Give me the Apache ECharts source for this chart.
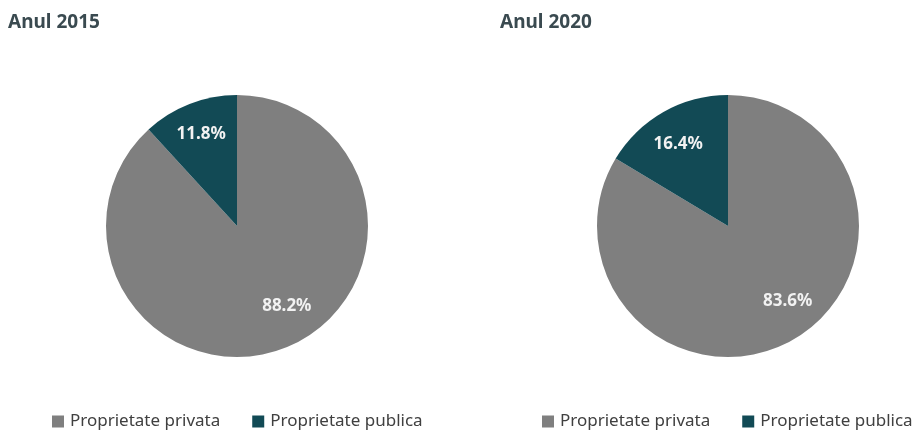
<!DOCTYPE html>
<html>
<head>
<meta charset="utf-8">
<style>
  html, body { margin: 0; padding: 0; background: #fff; }
  #chart { width: 923px; height: 432px; }
</style>
<script src="https://cdn.jsdelivr.net/npm/echarts@6/dist/echarts.min.js"></script>
</head>
<body>
<div id="chart"></div>
<script>
// date
var categories = ['Proprietate privata', 'Proprietate publica']
var years = ['Anul 2015', 'Anul 2020']
var values2015 = [88.2, 11.8]
var values2020 = [83.6, 16.4]

var colors = ['#7f7f7f', '#124a55']
var centers = [[237, 226], [728, 226]]
// eticheta mutata spre margine, ca in Excel
var labelShift = [
  [[25, 16], [-11, -28]],
  [[26, 16], [-16, -22]]
]

function makePie (idx, values) {
  return {
    type: 'pie',
    center: centers[idx],
    radius: 131,
    startAngle: 90,
    clockwise: true,
    silent: true,
    label: {
      show: true,
      position: 'inside',
      color: '#f2f2f2',
      fontFamily: 'Noto Sans',
      fontWeight: 'bold',
      fontSize: 17,
      formatter: function (p) { return p.value.toFixed(1) + '%' }
    },
    labelLine: { show: false },
    itemStyle: { borderWidth: 0 },
    data: categories.map(function (name, i) {
      return {
        name: name,
        value: values[i],
        itemStyle: { color: colors[i] },
        label: { offset: labelShift[idx][i] }
      }
    })
  }
}

var chart = echarts.init(document.getElementById('chart'))
var legendBase = {
  data: categories,
  top: 413,
  padding: 0,
  icon: 'rect',
  itemWidth: 12,
  itemHeight: 12,
  itemGap: 32,
  selectedMode: false,
  textStyle: { fontFamily: 'Noto Sans', fontSize: 17, color: '#404040', padding: [0, 0, 0, 1] }
}
var titleStyle = { fontFamily: 'Noto Sans', fontWeight: 'bold', fontSize: 19, color: '#3a4a50' }
chart.setOption({
  animation: false,
  color: colors,
  title: [
    { text: years[0], left: 3, top: 8, textStyle: titleStyle },
    { text: years[1], left: 495, top: 8, textStyle: titleStyle }
  ],
  legend: [
    Object.assign({}, legendBase, { left: 52 }),
    Object.assign({}, legendBase, { left: 542 })
  ],
  series: [makePie(0, values2015), makePie(1, values2020)]
})
</script>
</body>
</html>
